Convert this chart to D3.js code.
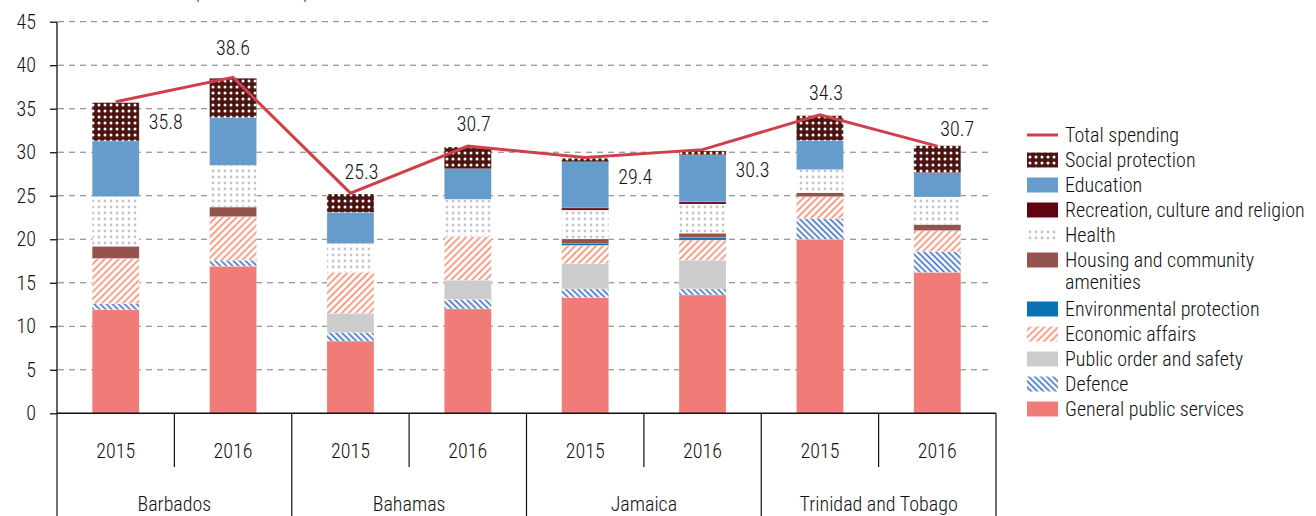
<!DOCTYPE html>
<html lang="en">
<head>
<meta charset="UTF-8" />
<title>Government spending by function</title>
<script src="https://cdn.jsdelivr.net/npm/d3@7"></script>
<style>
  body { margin: 0; background: #fff; }
  text {
    font-family: "Roboto Condensed", "Liberation Sans Narrow", sans-serif;
    font-weight: 300;
    font-size: 20px;
    fill: #111;
  }
  .grid line { stroke: #7a7a7a; stroke-dasharray: 6,5; stroke-width: 1; }
  .yaxis path, .yaxis line { stroke: #111; stroke-width: 1.3; }
</style>
</head>
<body>
<script>

// years and countries on the x axis
var countries = ["Barbados", "Bahamas", "Jamaica", "Trinidad and Tobago"];
var years = ["2015", "2016"];

// series, bottom to top, one value per country-year (same order as below)
var generalPublic = [11.9, 16.9, 8.3, 12.0, 13.3, 13.6, 20.0, 16.2];
var defence       = [0.7, 0.7, 1.0, 1.1, 1.0, 0.7, 2.4, 2.4];
var publicOrder   = [0, 0, 2.2, 2.2, 2.9, 3.3, 0, 0];
var economic      = [5.2, 5.0, 4.7, 5.0, 2.1, 2.3, 2.5, 2.4];
var environment   = [0, 0, 0, 0, 0.25, 0.3, 0, 0];
var housing       = [1.4, 1.1, 0, 0, 0.5, 0.5, 0.45, 0.7];
var health        = [5.7, 4.8, 3.3, 4.3, 3.3, 3.35, 2.65, 3.15];
var recreation    = [0, 0, 0, 0, 0.25, 0.25, 0, 0];
var education     = [6.4, 5.5, 3.6, 3.5, 5.3, 5.4, 3.35, 2.8];
var social        = [4.4, 4.5, 2.1, 2.5, 0.4, 0.45, 2.85, 3.1];

// total spending line and where its labels sit
var totals = [35.8, 38.6, 25.3, 30.7, 29.4, 30.3, 34.3, 30.7];
var totalLabelPlace = ["right", "high", "aboveRight", "above", "right", "right", "above", "farRight"];

var yTicks = [0, 5, 10, 15, 20, 25, 30, 35, 40, 45];

var seriesNames = ["General public services", "Defence", "Public order and safety", "Economic affairs",
  "Environmental protection", "Housing and community amenities", "Health",
  "Recreation, culture and religion", "Education", "Social protection"];
var seriesValues = [generalPublic, defence, publicOrder, economic, environment, housing, health,
  recreation, education, social];
var seriesFill = ["#f17b76", "url(#pDefence)", "#cdcccc", "url(#pEcon)", "#0a72b1", "#95534e",
  "url(#pHealth)", "#5f0411", "#669ccb", "url(#pSocial)"];

// keys for each bar
var keys = [];
countries.forEach(function(c) { years.forEach(function(y) { keys.push(c + "|" + y); }); });

var rows = keys.map(function(k, i) {
  var r = { key: k };
  seriesNames.forEach(function(s, j) { r[s] = seriesValues[j][i]; });
  return r;
});

var w = 1316, h = 516;
var left = 57, right = 996, top0 = 21.7, bottom0 = 413.3;

var svg = d3.select("body").append("svg")
  .attr("width", w)
  .attr("height", h);

// patterns
var defs = svg.append("defs");

function hatch(id, color, angle, size) {
  var p = defs.append("pattern")
    .attr("id", id)
    .attr("patternUnits", "userSpaceOnUse")
    .attr("width", size).attr("height", size)
    .attr("patternTransform", "rotate(" + angle + ")");
  p.append("rect").attr("width", size).attr("height", size).attr("fill", "#fff");
  p.append("line")
    .attr("x1", size / 2).attr("y1", 0).attr("x2", size / 2).attr("y2", size)
    .attr("stroke", color).attr("stroke-width", 1.6);
}
hatch("pDefence", "#3b6cc2", -45, 4.3);
hatch("pEcon", "#f5866b", 45, 4.9);

function dots(id, bg, color, size, r) {
  var p = defs.append("pattern")
    .attr("id", id)
    .attr("patternUnits", "userSpaceOnUse")
    .attr("width", size).attr("height", size);
  p.append("rect").attr("width", size).attr("height", size).attr("fill", bg);
  p.append("circle").attr("cx", size / 2).attr("cy", size / 2).attr("r", r).attr("fill", color);
}
dots("pHealth", "#fff", "#c4c4cf", 6, 1.4);
dots("pSocial", "#4d1512", "#fff", 6, 1.5);

// title, almost entirely above the visible area as in the original
svg.append("text")
  .attr("x", 193)
  .attr("y", -3)
  .style("font-size", "22px")
  .text("(as % of GDP)");

// scales
var x = d3.scaleBand()
  .domain(keys)
  .range([left, right]);

var y = d3.scaleLinear()
  .domain([0, 45])
  .range([bottom0, top0]);

var barW = 47;

// grid lines
svg.append("g")
  .attr("class", "grid")
  .selectAll("line")
  .data(yTicks.filter(function(d) { return d > 0; }))
  .enter()
  .append("line")
  .attr("x1", left + 1)
  .attr("x2", 991)
  .attr("y1", function(d) { return y(d); })
  .attr("y2", function(d) { return y(d); });

// stacked bars
var stack = d3.stack().keys(seriesNames);
var layers = stack(rows);

svg.append("g")
  .selectAll("g")
  .data(layers)
  .enter()
  .append("g")
  .attr("fill", function(d, i) { return seriesFill[i]; })
  .selectAll("rect")
  .data(function(d) { return d; })
  .enter()
  .append("rect")
  .attr("x", function(d) { return x(d.data.key) + (x.bandwidth() - barW) / 2; })
  .attr("width", barW)
  .attr("y", function(d) { return y(d[1]); })
  .attr("height", function(d) { return Math.max(0, y(d[0]) - y(d[1])); })
  .attr("stroke", "#fff")
  .attr("stroke-opacity", 0.35)
  .attr("stroke-width", 0.6);

// y axis
var yAxis = d3.axisLeft(y)
  .tickValues(yTicks)
  .tickSize(7)
  .tickPadding(14);

svg.append("g")
  .attr("class", "yaxis")
  .attr("transform", "translate(" + left + ",0)")
  .call(yAxis)
  .call(function(g) { g.select(".domain").attr("d", "M0," + bottom0 + "V" + top0); })
  .selectAll("text")
  .style("font-size", "20px")
  .style("font-family", "'Roboto Condensed', sans-serif")
  .attr("fill", "#111");

// x axis: line, year separators, country separators
var xa = svg.append("g").attr("class", "xaxis");

xa.append("line")
  .attr("x1", left).attr("x2", right)
  .attr("y1", bottom0).attr("y2", bottom0)
  .attr("stroke", "#111").attr("stroke-width", 1.6);

xa.selectAll(".ysep")
  .data(keys.filter(function(k, i) { return i % 2 === 1; }))
  .enter()
  .append("line")
  .attr("x1", function(d) { return x(d); })
  .attr("x2", function(d) { return x(d); })
  .attr("y1", bottom0).attr("y2", 467)
  .attr("stroke", "#111").attr("stroke-width", 1.2);

var countryEdges = keys.filter(function(k, i) { return i % 2 === 0; }).map(function(k) { return x(k); });
countryEdges.push(right);

xa.selectAll(".csep")
  .data(countryEdges)
  .enter()
  .append("line")
  .attr("x1", function(d) { return d; })
  .attr("x2", function(d) { return d; })
  .attr("y1", bottom0).attr("y2", h)
  .attr("stroke", "#111").attr("stroke-width", 1.2);

xa.selectAll(".year")
  .data(keys)
  .enter()
  .append("text")
  .attr("x", function(d) { return x(d) + x.bandwidth() / 2; })
  .attr("y", 458)
  .attr("text-anchor", "middle")
  .text(function(d) { return d.split("|")[1]; });

xa.selectAll(".country")
  .data(countries)
  .enter()
  .append("text")
  .attr("x", function(d) { return x(d + "|2015") + x.bandwidth(); })
  .attr("y", 511)
  .attr("text-anchor", "middle")
  .text(function(d) { return d; });

// total spending line
var line = d3.line()
  .x(function(d, i) { return x(keys[i]) + x.bandwidth() / 2; })
  .y(function(d) { return y(d); });

svg.append("path")
  .datum(totals)
  .attr("d", line)
  .attr("fill", "none")
  .attr("stroke", "#d0404b")
  .attr("stroke-width", 3);

var place = {
  right: [50, 27],
  high: [0, -22],
  above: [6, -15],
  aboveRight: [11, -14],
  farRight: [20, -10]
};

svg.selectAll(".total")
  .data(totals)
  .enter()
  .append("text")
  .attr("x", function(d, i) { return x(keys[i]) + x.bandwidth() / 2 + place[totalLabelPlace[i]][0]; })
  .attr("y", function(d, i) { return y(d) + place[totalLabelPlace[i]][1]; })
  .attr("text-anchor", "middle")
  .text(function(d) { return d.toFixed(1); });

// legend
var legendItems = ["Total spending"].concat(seriesNames.slice().reverse());
var legendFill = [null].concat(seriesFill.slice().reverse());

var lg = svg.append("g").attr("transform", "translate(1027,0)");

var ly = 135;
legendItems.forEach(function(name, i) {
  var g = lg.append("g").attr("transform", "translate(0," + ly + ")");
  if (i === 0) {
    g.append("line")
      .attr("x1", 0).attr("x2", 31)
      .attr("y1", 0).attr("y2", 0)
      .attr("stroke", "#d0404b").attr("stroke-width", 3);
  } else {
    g.append("rect")
      .attr("x", 0).attr("y", -7.5)
      .attr("width", 31).attr("height", 15)
      .attr("fill", legendFill[i]);
  }
  if (name === "Housing and community amenities") {
    var t = g.append("text").attr("x", 38).attr("y", 7);
    t.append("tspan").attr("x", 38).text("Housing and community");
    t.append("tspan").attr("x", 38).attr("dy", 22).text("amenities");
    ly += 49;
  } else {
    g.append("text").attr("x", 38).attr("y", 7).text(name);
    ly += 25;
  }
});

</script>
</body>
</html>
